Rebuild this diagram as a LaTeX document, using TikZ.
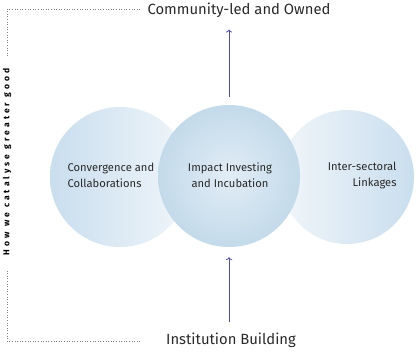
\documentclass[tikz,border=0pt]{standalone}
\usepackage{fontspec}
\setmainfont{Fira Sans}
\newfontfamily\spacedfont[LetterSpace=36]{Fira Sans}
\usetikzlibrary{arrows.meta,calc}
\definecolor{circA}{HTML}{C9DEEE}
\definecolor{circB}{HTML}{F1F6FA}
\definecolor{midIn}{HTML}{E2EDF6}
\definecolor{midOut}{HTML}{C3DAEA}
\definecolor{arrowc}{HTML}{4E4EA6}
\definecolor{textc}{HTML}{2A2A2A}
\tikzset{
  circ/.style={circle, minimum size=140pt, inner sep=0pt},
  lbl/.style={font=\fontsize{11.2}{16}\selectfont, text=textc},
  headlbl/.style={font=\fontsize{14.8}{17}\selectfont, text=textc, inner sep=0pt},
  upar/.style={draw=arrowc, line width=0.8pt, -{To[length=3pt,width=6.5pt]}},
  bracket/.style={draw=gray, dotted, line width=0.6pt},
}
\begin{document}
\begin{tikzpicture}[x=1pt,y=-1pt]
\useasboundingbox (0,0) rectangle (418,352);
\node[circ, left color=circA, right color=circB] (left) at (120,177) {};
\node[circ, minimum size=134pt, left color=circB, right color=circA] (right) at (347,177) {};
\node[circ, minimum size=142pt, inner color=midIn, outer color=midOut] (mid) at (229,176) {};
\node[lbl, align=left, anchor=west] (ltxt) at (64,175) {Convergence and\\Collaborations};
\node[lbl, align=center] (mtxt) at (230,175) {Impact Investing\\and Incubation};
\node[lbl, align=right, anchor=east] (rtxt) at (400,175) {Inter-sectoral\\Linkages};
\node[headlbl] (top) at (239,10) {Community-led and Owned};
\node[headlbl] (bot) at (231,340) {Institution Building};
\draw[upar, shorten <=8pt, shorten >=12pt] (mid.north) -- (mid.north |- top.south);
\draw[upar, shorten <=10pt, shorten >=10pt] (mid.south |- bot.north) -- (mid.south);
\node[rotate=90, font=\fontsize{8.5}{8.5}\spacedfont\bfseries, text=black, inner sep=0pt] (side) at (7,162) {How we catalyse greater good};
\coordinate (tl) at (7,9);
\coordinate (tr) at (140,9);
\coordinate (bl) at (7,341);
\coordinate (br) at (140,341);
\draw[bracket] (tr) -- (tl) -- ($(side.east)+(0,-12)$);
\draw[bracket] (br) -- (bl) -- ($(side.west)+(0,14)$);
\end{tikzpicture}
\end{document}
